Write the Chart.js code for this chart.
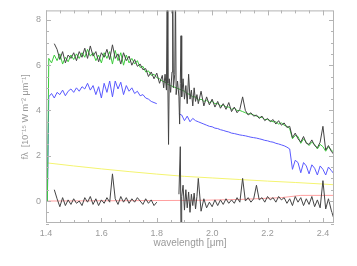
<!DOCTYPE html>
<html>
<head>
<meta charset="utf-8">
<script src="https://cdn.jsdelivr.net/npm/chart.js@4.4.1/dist/chart.umd.min.js"></script>
<style>
  html, body { margin: 0; padding: 0; background: #fff; }
  canvas { display: block; }
</style>
</head>
<body>
<canvas id="spectrum" width="357" height="266"></canvas>
<script>
// model wavelength grid in micron
const wavelength = [
  1.41, 1.42, 1.43, 1.44, 1.45, 1.46, 1.47, 1.48, 1.49, 1.50,
  1.51, 1.52, 1.53, 1.54, 1.55, 1.56, 1.57, 1.58, 1.59, 1.60,
  1.61, 1.62, 1.63, 1.64, 1.65, 1.66, 1.67, 1.68, 1.69, 1.70,
  1.71, 1.72, 1.73, 1.74, 1.75, 1.76, 1.77, 1.78, 1.79, 1.80,
  1.81, 1.82, 1.83, 1.84, 1.85, 1.86, 1.87, 1.88, 1.89, 1.90,
  1.91, 1.92, 1.93, 1.94, 1.95, 1.96, 1.97, 1.98, 1.99, 2.00,
  2.01, 2.02, 2.03, 2.04, 2.05, 2.06, 2.07, 2.08, 2.09, 2.10,
  2.11, 2.12, 2.13, 2.14, 2.15, 2.16, 2.17, 2.18, 2.19, 2.20,
  2.21, 2.22, 2.23, 2.24, 2.25, 2.26, 2.27, 2.28, 2.29, 2.30,
  2.31, 2.32, 2.33, 2.34, 2.35, 2.36, 2.37, 2.38, 2.39, 2.40,
  2.41, 2.42, 2.43, 2.44
];

// total model (green)
const modelFlux = [
  6.30, 6.10, 6.45, 6.20, 6.50, 6.05, 6.35, 6.15, 6.45, 6.25,
  6.50, 6.30, 6.55, 6.35, 6.70, 6.40, 6.55, 6.20, 6.45, 6.10,
  6.55, 6.30, 6.60, 6.05, 6.65, 6.20, 6.55, 6.00, 6.45, 6.10,
  6.30, 6.05, 6.20, 5.90, 5.95, 5.70, 5.75, 5.55, 5.60, 5.45,
  5.40, 5.30, 5.25, 5.15, 5.10, 5.05, 5.00, 4.95, 4.90, 4.85,
  4.75, 4.70, 4.60, 4.60, 4.45, 4.50, 4.40, 4.45, 4.35, 4.40,
  4.30, 4.30, 4.20, 4.25, 4.15, 4.15, 4.05, 4.10, 4.00, 4.00,
  3.95, 3.90, 3.85, 3.85, 3.80, 3.75, 3.70, 3.70, 3.60, 3.60,
  3.55, 3.50, 3.50, 3.40, 3.45, 3.35, 3.30, 3.20, 2.75, 2.90,
  2.85, 2.55, 2.75, 2.60, 2.45, 2.60, 2.50, 2.30, 2.50, 2.40,
  2.20, 2.40, 2.25, 2.15
];

// stellar component (blue)
const stellarFlux = [
  4.60, 4.75, 4.55, 4.80, 4.70, 4.90, 4.65, 4.85, 4.95, 4.80,
  5.00, 4.85, 5.05, 4.95, 5.20, 4.90, 5.10, 4.70, 5.05, 4.55,
  5.20, 4.80, 5.30, 4.60, 5.30, 4.95, 5.25, 4.70, 5.10, 4.85,
  5.00, 4.75, 4.85, 4.65, 4.70, 4.55, 4.50, 4.40, 4.35, 4.30,
  null, null, null, null, null, null, null, 3.85, 3.80, 3.55,
  3.75, 3.50, 3.65, 3.55, 3.50, 3.45, 3.40, 3.35, 3.30, 3.28,
  3.22, 3.20, 3.15, 3.12, 3.08, 3.05, 3.00, 2.98, 2.95, 2.92,
  2.90, 2.88, 2.85, 2.82, 2.80, 2.78, 2.75, 2.72, 2.68, 2.66,
  2.62, 2.60, 2.55, 2.52, 2.48, 2.44, 2.38, 2.30, 1.40, 1.80,
  1.70, 1.25, 1.70, 1.55, 1.20, 1.60, 1.45, 1.15, 1.55, 1.40,
  1.15, 1.50, 1.35, 1.20
];

// observed spectrum (black), finer sampling in the noisy 1.82-1.95 gap
const observedWl = [
  1.43, 1.44, 1.45, 1.46, 1.47, 1.48, 1.49, 1.50,
  1.51, 1.52, 1.53, 1.54, 1.55, 1.56, 1.57, 1.58, 1.59, 1.60,
  1.61, 1.62, 1.63, 1.64, 1.65, 1.66, 1.67, 1.68, 1.69, 1.70,
  1.71, 1.72, 1.73, 1.74, 1.75, 1.76, 1.77, 1.78, 1.79, 1.80,
  1.81, 1.82,
  1.825, 1.830, 1.835, 1.8375, 1.840, 1.8425, 1.845, 1.850, 1.855, 1.8575,
  1.860, 1.865, 1.8675, 1.870, 1.875, 1.880, 1.8825, 1.885, 1.8875, 1.890,
  1.895, 1.900, 1.905, 1.910, 1.915, 1.920, 1.925, 1.930, 1.935, 1.940,
  1.945,
  1.95, 1.96, 1.97, 1.98, 1.99, 2.00,
  2.01, 2.02, 2.03, 2.04, 2.05, 2.06, 2.07, 2.08, 2.09, 2.10,
  2.11, 2.12, 2.13, 2.14, 2.15, 2.16, 2.17, 2.18, 2.19, 2.20,
  2.21, 2.22, 2.23, 2.24, 2.25, 2.26, 2.27, 2.28, 2.29, 2.30,
  2.31, 2.32, 2.33, 2.34, 2.35, 2.36, 2.37, 2.38, 2.39, 2.40,
  2.41, 2.42, 2.43, 2.44
];
const observedFlux = [
  6.95, 6.70, 6.25, 6.60, 6.10, 6.45, 6.30, 6.55,
  6.20, 6.60, 6.35, 6.75, 6.30, 6.85, 6.40, 6.60, 6.15, 6.55,
  6.35, 6.70, 6.25, 6.90, 6.30, 6.50, 6.05, 6.55, 6.20, 6.40,
  6.00, 6.25, 5.95, 6.05, 5.80, 5.85, 5.50, 5.70, 5.40, 5.65,
  5.20, 5.55,
  5.00, 5.60, 4.90, 9.40, 5.20, 2.50, 5.40, 4.80, 5.70, 9.30,
  5.00, 5.60, 9.40, 4.70, 5.30, 4.60, 3.40, 5.20, 7.30, 4.60,
  5.40, 4.50, 5.10, 4.30, 5.60, 4.50, 4.90, 4.20, 5.00, 4.40,
  4.70,
  4.30, 4.85, 4.20, 4.60, 4.25, 4.50,
  4.15, 4.40, 4.10, 4.30, 4.05, 4.35, 3.95, 4.15, 3.90, 4.05,
  4.60, 4.00, 3.80, 3.90, 3.75, 3.80, 3.65, 3.75, 3.55, 3.65,
  3.50, 3.60, 3.40, 3.55, 3.35, 3.45, 3.25, 3.30, 2.80, 3.00,
  2.75, 2.60, 2.85, 2.55, 2.50, 2.70, 2.45, 2.35, 2.60, 3.30,
  2.25, 2.45, 2.20, 2.05
];

// residuals (observed - model), gap between the bands
const residualWl = [
  1.43, 1.44, 1.45, 1.46, 1.47, 1.48, 1.49, 1.50,
  1.51, 1.52, 1.53, 1.54, 1.55, 1.56, 1.57, 1.58, 1.59, 1.60,
  1.61, 1.62, 1.63, 1.64, 1.65, 1.66, 1.67, 1.68, 1.69, 1.70,
  1.71, 1.72, 1.73, 1.74, 1.75, 1.76, 1.77, 1.78, 1.79, 1.80,
  1.84,
  1.880, 1.885, 1.8875, 1.890, 1.895, 1.900, 1.905, 1.910, 1.915, 1.920,
  1.925, 1.930, 1.935, 1.940, 1.945,
  1.95, 1.96, 1.97, 1.98, 1.99, 2.00,
  2.01, 2.02, 2.03, 2.04, 2.05, 2.06, 2.07, 2.08, 2.09, 2.10,
  2.11, 2.12, 2.13, 2.14, 2.15, 2.16, 2.17, 2.18, 2.19, 2.20,
  2.21, 2.22, 2.23, 2.24, 2.25, 2.26, 2.27, 2.28, 2.29, 2.30,
  2.31, 2.32, 2.33, 2.34, 2.35, 2.36, 2.37, 2.38, 2.39, 2.40,
  2.41, 2.42, 2.43, 2.44
];
const residualFlux = [
  0.50, 0.10, -0.25, 0.15, -0.20, 0.05, -0.15, 0.10,
  -0.10, 0.00, -0.20, 0.15, -0.05, 0.20, -0.15, 0.10, -0.20, 0.05,
  -0.10, 0.15, -0.05, 1.20, 0.10, -0.15, 0.20, -0.05, 0.15, -0.10,
  0.10, -0.05, 0.15, 0.00, -0.15, 0.10, -0.10, 0.05, -0.20, -0.05,
  null,
  0.30, 2.40, -1.30, 0.20, 0.70, -0.40, 0.50, -0.30, 0.40, -0.50,
  0.30, -0.20, 0.35, -0.35, 0.20,
  1.00, -0.45, 0.10, -0.30, -0.05, -0.25,
  0.05, -0.20, 0.05, -0.15, 0.10, -0.10, 0.05, -0.10, 0.15, -0.05,
  1.00, 0.00, 0.15, -0.05, 0.10, 0.70, 0.05, 0.15, -0.05, 0.20,
  0.05, 0.15, -0.05, 0.20, 0.05, 0.15, -0.10, 0.10, -0.20, 0.20,
  -0.05, 0.15, -0.20, 0.10, -0.15, 0.20, -0.25, 0.05, -0.30, 0.90,
  -0.35, 0.10, -0.40, -0.80
];

// hot dust continuum (yellow)
const dustWl = [1.40, 1.50, 1.60, 1.70, 1.80, 1.90, 2.00, 2.10, 2.20, 2.30, 2.40, 2.44];
const dustFlux = [1.69, 1.55, 1.42, 1.30, 1.19, 1.09, 1.02, 0.95, 0.88, 0.82, 0.75, 0.72];

// baseline (red)
const baseWl = [1.40, 1.95, 2.10, 2.25, 2.32, 2.44];
const baseFlux = [0.00, 0.03, 0.07, 0.15, 0.25, 0.25];

// model curves start from zero at the blue edge
const edgeWl = 1.405;

const xTickValues = [1.4, 1.6, 1.8, 2.0, 2.2, 2.4];
const yTickValues = [0, 2, 4, 6, 8];

const axisGrey = '#b4b4b4';
const textGrey = '#9a9a9a';
const fontFamily = '"Liberation Sans", Arial, sans-serif';

function toPoints(xs, ys) {
  return xs.map((x, i) => ({x: x, y: ys[i]}));
}

function lineSet(label, data, color, width) {
  return {
    label: label,
    data: data,
    borderColor: color,
    borderWidth: width || 1,
    pointRadius: 0,
    fill: false,
    tension: 0,
    spanGaps: false,
  };
}

// IDL-like box with inward ticks on all four sides
const framePlugin = {
  id: 'frame',
  afterDatasetsDraw(chart) {
    const {ctx, chartArea: a, scales} = chart;
    const x = scales.x, y = scales.y;
    ctx.save();
    ctx.strokeStyle = axisGrey;
    ctx.lineWidth = 1;
    ctx.strokeRect(a.left + 0.5, a.top + 0.5, a.right - a.left - 1, a.bottom - a.top - 1);
    ctx.beginPath();
    for (let k = 28; k * 0.05 <= 2.44 + 1e-9; k++) {
      const px = Math.round(x.getPixelForValue(k * 0.05)) + 0.5;
      const len = (k % 4 === 0) ? 5 : 3;
      ctx.moveTo(px, a.bottom);
      ctx.lineTo(px, a.bottom - len);
      ctx.moveTo(px, a.top);
      ctx.lineTo(px, a.top + len);
    }
    for (let k = -2; k * 0.5 <= 8.4; k++) {
      const py = Math.round(y.getPixelForValue(k * 0.5)) + 0.5;
      const len = (k % 4 === 0) ? 5 : 3;
      ctx.moveTo(a.left, py);
      ctx.lineTo(a.left + len, py);
      ctx.moveTo(a.right, py);
      ctx.lineTo(a.right - len, py);
    }
    ctx.stroke();
    ctx.restore();
  }
};

const ctx = document.getElementById('spectrum');

new Chart(ctx, {
  type: 'line',
  data: {
    datasets: [
      lineSet('residual', toPoints(residualWl, residualFlux), '#444444'),
      lineSet('observed', toPoints(observedWl, observedFlux), '#444444'),
      lineSet('model', [{x: edgeWl, y: 0}].concat(toPoints(wavelength, modelFlux)), '#3ccc3c'),
      lineSet('stars', [{x: edgeWl, y: 0}].concat(toPoints(wavelength, stellarFlux)), '#5a5aff'),
      lineSet('baseline', toPoints(baseWl, baseFlux), '#ffa0a0'),
      lineSet('dust', toPoints(dustWl, dustFlux), '#f4f470'),
    ]
  },
  options: {
    responsive: false,
    animation: false,
    devicePixelRatio: 1,
    layout: {padding: {top: 8, right: 23, left: 0, bottom: 0}},
    plugins: {legend: {display: false}, tooltip: {enabled: false}},
    scales: {
      x: {
        type: 'linear',
        min: 1.4,
        max: 2.44,
        grid: {display: false, drawTicks: false},
        border: {display: false},
        afterBuildTicks: (scale) => { scale.ticks = xTickValues.map(v => ({value: v})); },
        afterFit: (scale) => { scale.height = 43; },
        ticks: {
          autoSkip: false,
          maxRotation: 0,
          padding: 5,
          color: textGrey,
          font: {family: fontFamily, size: 9},
          callback: (v) => Number(v).toFixed(1),
        },
        title: {
          display: true,
          text: 'wavelength [\u03BCm]',
          color: textGrey,
          font: {family: fontFamily, size: 10},
          padding: {top: 0, bottom: 17},
        },
      },
      y: {
        type: 'linear',
        min: -0.97,
        max: 8.42,
        grid: {display: false, drawTicks: false},
        border: {display: false},
        afterBuildTicks: (scale) => { scale.ticks = yTickValues.map(v => ({value: v})); },
        afterFit: (scale) => { scale.width = 46; },
        ticks: {
          autoSkip: false,
          padding: 5,
          color: textGrey,
          font: {family: fontFamily, size: 9},
          callback: (v) => String(v),
        },
        title: {
          display: true,
          text: 'f\u03BB  [10\u207B\u00B9\u2075 W m\u207B\u00B2 \u03BCm\u207B\u00B9]',
          color: textGrey,
          font: {family: fontFamily, size: 9},
          padding: {top: 20, bottom: 0},
        },
      },
    },
  },
  plugins: [framePlugin],
});
</script>
</body>
</html>
